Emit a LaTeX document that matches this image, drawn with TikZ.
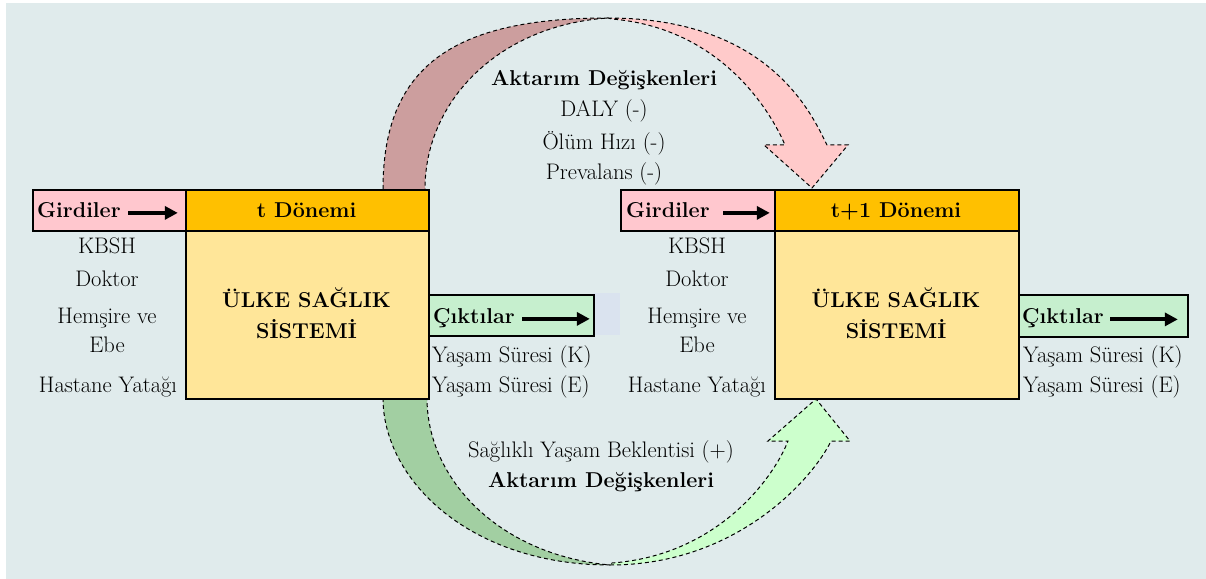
\documentclass[tikz,border=0pt]{standalone}
\usepackage{fontspec}
\usetikzlibrary{arrows.meta,calc}
\definecolor{bg}{HTML}{E0EBEC}
\definecolor{girdcol}{HTML}{FFC7CE}
\definecolor{cikcol}{HTML}{C6EFCE}
\definecolor{headcol}{HTML}{FFC000}
\definecolor{syscol}{HTML}{FFE699}
\definecolor{bluecol}{HTML}{DAE3EF}
\definecolor{rosedark}{HTML}{CC9E9E}
\definecolor{roselight}{HTML}{FFCACA}
\definecolor{greendark}{HTML}{A2CFA2}
\definecolor{greenlight}{HTML}{CCFFCC}
\begin{document}
\begin{tikzpicture}[x=1bp,y=-1bp,
  boxst/.style={draw=black,line width=1.8bp,inner sep=0pt,anchor=north west},
  rg/.style={font=\fontsize{22.5bp}{26bp}\selectfont,inner sep=0pt},
  bd/.style={font=\fontsize{21.5bp}{26bp}\selectfont\bfseries,inner sep=0pt},
  thkarrow/.style={line width=4bp,-{Triangle[length=13bp,width=13bp]}},
  dashline/.style={draw=black,line width=1bp,dash pattern=on 4bp off 3bp}]
\useasboundingbox (0,0) rectangle (1206,579);
\fill[bg] (6,3) rectangle (1206,579);

% curved block arrows
\filldraw[fill=rosedark,dashline] (383,189) .. controls (383,65) and (455,18) .. (608,18)
  .. controls (500,25) and (425,100) .. (425,189);
\filldraw[fill=roselight,dashline] (608,18) .. controls (770,18) and (812,115) .. (827,145)
  -- (848,145) -- (812,188) -- (764,145) -- (785,145)
  .. controls (770,110) and (720,28) .. (612,19) -- cycle;
\filldraw[fill=greendark,dashline] (383,398) .. controls (383,480) and (470,565) .. (610,565)
  .. controls (500,555) and (427,480) .. (427,398);
\filldraw[fill=greenlight,dashline] (610,565) .. controls (740,565) and (815,475) .. (831,441)
  -- (850,441) -- (816,399) -- (768,441) -- (788,441)
  .. controls (775,475) and (720,555) .. (612,563) -- cycle;

% left block
\node[boxst,fill=girdcol,minimum width=153bp,minimum height=41bp] (girdL) at (32,189) {};
\node[boxst,fill=headcol,minimum width=243bp,minimum height=41bp] (donL) at (185,189) {};
\node[boxst,fill=syscol,minimum width=243bp,minimum height=168bp] (sysL) at (185,230) {};
\node[fill=bluecol,inner sep=0pt,anchor=north west,minimum width=27bp,minimum height=42bp] (blueL) at (593,293) {};
\node[boxst,fill=cikcol,minimum width=165bp,minimum height=41bp] (cikL) at (428,294) {};

\node[bd,anchor=base west] (girdLt) at (37,218) {Girdiler};
\draw[thkarrow] ($(girdL.west)+(96,2.5)$) -- ($(girdL.east)+(-9,2.5)$);
\node[bd,anchor=base] (donLt) at (306.5,218) {t Dönemi};
\node[bd,anchor=base] (sysLa) at (306.5,308) {ÜLKE SAĞLIK};
\node[bd,anchor=base] (sysLb) at (306.5,339) {SİSTEMİ};
\node[bd,anchor=base west] (cikLt) at (433,324) {Çıktılar};
\draw[thkarrow] ($(cikL.west)+(94,3.5)$) -- ($(cikL.east)+(-5,3.5)$);

\node[rg,anchor=base] (inL1) at (107,254) {KBSH};
\node[rg,anchor=base] (inL2) at (107,287) {Doktor};
\node[rg,anchor=base] (inL3) at (107,324) {Hemşire ve};
\node[rg,anchor=base] (inL4) at (107,353) {Ebe};
\node[rg,anchor=base] (inL5) at (108,392) {Hastane Yatağı};
\node[rg,anchor=base west] (outL1) at (432,362) {Yaşam Süresi (K)};
\node[rg,anchor=base west] (outL2) at (432,392) {Yaşam Süresi (E)};

% right block
\node[boxst,fill=girdcol,minimum width=154bp,minimum height=41bp] (girdR) at (620,189) {};
\node[boxst,fill=headcol,minimum width=244bp,minimum height=41bp] (donR) at (774,189) {};
\node[boxst,fill=syscol,minimum width=244bp,minimum height=168bp] (sysR) at (774,230) {};
\node[boxst,fill=cikcol,minimum width=169bp,minimum height=42bp] (cikR) at (1018,294) {};

\node[bd,anchor=base west] (girdRt) at (626,218) {Girdiler};
\draw[thkarrow] ($(girdR.west)+(103,2.5)$) -- ($(girdR.east)+(-6,2.5)$);
\node[bd,anchor=base] (donRt) at (896,218) {t+1 Dönemi};
\node[bd,anchor=base] (sysRa) at (896,308) {ÜLKE SAĞLIK};
\node[bd,anchor=base] (sysRb) at (896,339) {SİSTEMİ};
\node[bd,anchor=base west] (cikRt) at (1022,324) {Çıktılar};
\draw[thkarrow] ($(cikR.west)+(92,3.5)$) -- ($(cikR.east)+(-11,3.5)$);

\node[rg,anchor=base] (inR1) at (697,254) {KBSH};
\node[rg,anchor=base] (inR2) at (697,287) {Doktor};
\node[rg,anchor=base] (inR3) at (697,324) {Hemşire ve};
\node[rg,anchor=base] (inR4) at (697,353) {Ebe};
\node[rg,anchor=base] (inR5) at (697,392) {Hastane Yatağı};
\node[rg,anchor=base west] (outR1) at (1023,362) {Yaşam Süresi (K)};
\node[rg,anchor=base west] (outR2) at (1023,392) {Yaşam Süresi (E)};

% transfer variables
\node[bd,anchor=base] (topT) at (604,86) {Aktarım Değişkenleri};
\node[rg,anchor=base] (top1) at (604,117) {DALY (-)};
\node[rg,anchor=base] (top2) at (604,150) {Ölüm Hızı (-)};
\node[rg,anchor=base] (top3) at (604,180) {Prevalans (-)};
\node[rg,anchor=base] (bot1) at (601,457) {Sağlıklı Yaşam Beklentisi (+)};
\node[bd,anchor=base] (botT) at (601,487) {Aktarım Değişkenleri};
\end{tikzpicture}
\end{document}
